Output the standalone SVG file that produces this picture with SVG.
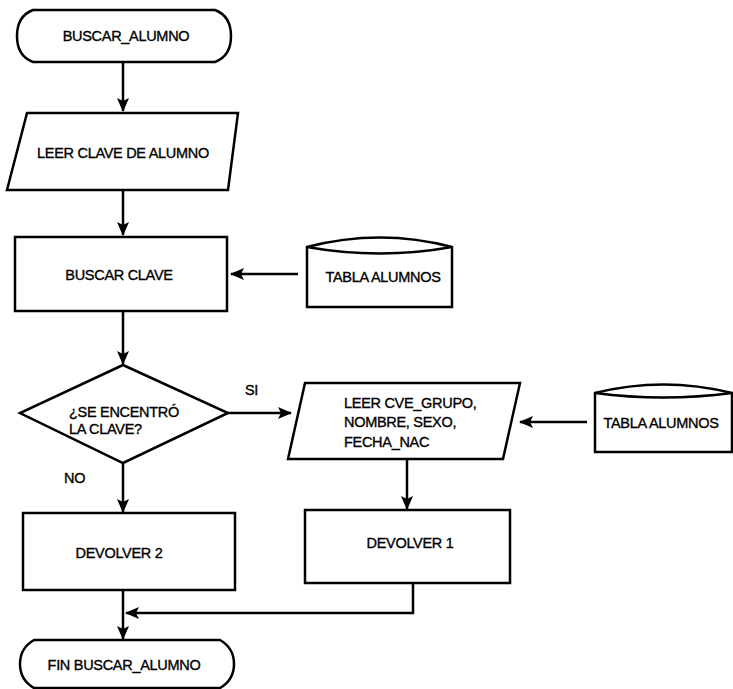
<svg xmlns="http://www.w3.org/2000/svg" width="733" height="689" viewBox="0 0 733 689">
<defs>
<style>
.s{fill:#fff;stroke:#000;stroke-width:2.5;stroke-linejoin:miter}
.c{fill:none;stroke:#000;stroke-width:2.5}
.t{font-family:"Liberation Sans",Arial,sans-serif;font-size:14.5px;fill:#000;stroke:#000;stroke-width:0.35;letter-spacing:-0.3px}
.m{text-anchor:middle}
</style>
<marker id="ah" markerWidth="14" markerHeight="12" viewBox="0 0 14 12" refX="13" refY="6" orient="auto" markerUnits="userSpaceOnUse">
<path d="M0,0 L14,6 L0,12 L3,6 Z" fill="#000"/>
</marker>
</defs>
<rect width="733" height="689" fill="#fff"/>
<g id="connectors">
<line class="c" x1="123" y1="62" x2="123" y2="111" marker-end="url(#ah)"/>
<line class="c" x1="123" y1="190" x2="123" y2="235" marker-end="url(#ah)"/>
<line class="c" x1="298" y1="274" x2="231" y2="274" marker-end="url(#ah)"/>
<line class="c" x1="123" y1="311" x2="123" y2="364" marker-end="url(#ah)"/>
<line class="c" x1="228" y1="413" x2="291" y2="413" marker-end="url(#ah)"/>
<line class="c" x1="123" y1="463" x2="123" y2="512" marker-end="url(#ah)"/>
<line class="c" x1="587" y1="422" x2="520" y2="422" marker-end="url(#ah)"/>
<line class="c" x1="407" y1="459" x2="407" y2="509" marker-end="url(#ah)"/>
<line class="c" x1="123" y1="590" x2="123" y2="639" marker-end="url(#ah)"/>
<polyline class="c" points="413,583 413,613 126,613" marker-end="url(#ah)"/>
<text class="t" x="245" y="395">SI</text>
<text class="t" x="64" y="483">NO</text>
</g>
<g id="start">
<path class="s" d="M33,10 H215 Q231,16 231,36 Q231,56 215,62 H33 Q17,56 17,36 Q17,16 33,10 Z"/>
<text class="t m" x="126" y="41">BUSCAR_ALUMNO</text>
</g>
<g id="leer-clave">
<polygon class="s" points="27,113 238,113 228,190 7,190"/>
<text class="t m" x="123" y="158">LEER CLAVE DE ALUMNO</text>
</g>
<g id="buscar-clave">
<rect class="s" x="15" y="237" width="212" height="74"/>
<text class="t m" x="119" y="280">BUSCAR CLAVE</text>
</g>
<g id="tabla-alumnos-1">
<path class="s" d="M307,247 Q380,228 452,247 V307 H307 Z"/>
<path class="c" d="M307,247 Q380,260 452,247"/>
<text class="t m" x="383" y="282">TABLA ALUMNOS</text>
</g>
<g id="decision">
<polygon class="s" points="123,365 228,413 123,463 20,413"/>
<text class="t" x="69" y="417">¿SE ENCENTRÓ</text>
<text class="t" x="69" y="434">LA CLAVE?</text>
</g>
<g id="leer-datos">
<polygon class="s" points="305,383 520,383 503,459 288,459"/>
<text class="t" x="344" y="408">LEER CVE_GRUPO,</text>
<text class="t" x="344" y="427">NOMBRE, SEXO,</text>
<text class="t" x="344" y="447">FECHA_NAC</text>
</g>
<g id="tabla-alumnos-2">
<path class="s" d="M595,393 Q663,376 732,393 V452 H595 Z"/>
<path class="c" d="M595,393 Q663,402 732,393"/>
<text class="t m" x="661" y="428">TABLA ALUMNOS</text>
</g>
<g id="devolver-2">
<rect class="s" x="23" y="513" width="212" height="77"/>
<text class="t m" x="119" y="558">DEVOLVER 2</text>
</g>
<g id="devolver-1">
<rect class="s" x="305" y="510" width="205" height="73"/>
<text class="t m" x="410" y="548">DEVOLVER 1</text>
</g>
<g id="fin">
<path class="s" d="M34,640 H220 Q234,648 234,664 Q234,680 220,688 H34 Q20,680 20,664 Q20,648 34,640 Z"/>
<text class="t m" x="124" y="670">FIN BUSCAR_ALUMNO</text>
</g>
</svg>
